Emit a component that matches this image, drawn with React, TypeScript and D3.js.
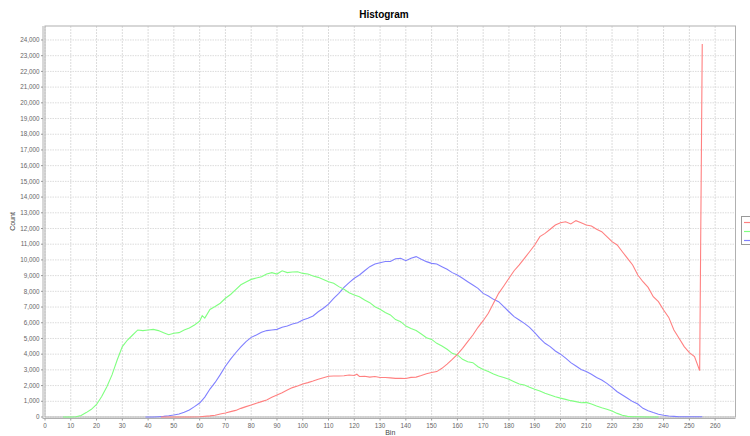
import React from 'react';
import * as d3 from 'd3';

// [bin, count]
const redSeries: [number, number][] = [
  [45, 0], [50, 0], [56, 0], [60, 20], [64, 70], [66, 110], [68, 190], [70, 260], [72, 340], [74, 420],
  [76, 550], [78, 660], [80, 760], [82, 870], [84, 980], [86, 1080], [88, 1250], [90, 1400], [92, 1550],
  [94, 1720], [96, 1870], [98, 1970], [100, 2100], [102, 2190], [104, 2290], [106, 2400], [108, 2500],
  [110, 2590], [112, 2610], [114, 2610], [116, 2630], [118, 2670], [120, 2640], [121, 2720], [122, 2580],
  [124, 2590], [126, 2540], [128, 2580], [130, 2510], [132, 2510], [134, 2490], [136, 2460], [138, 2460],
  [140, 2450], [142, 2520], [144, 2540], [146, 2640], [148, 2750], [150, 2830], [152, 2890], [154, 3100],
  [156, 3370], [158, 3670], [160, 3990], [162, 4370], [164, 4800], [166, 5220], [168, 5710], [170, 6130],
  [172, 6600], [174, 7240], [176, 7870], [178, 8340], [180, 8830], [182, 9310], [184, 9680], [186, 10100],
  [188, 10520], [190, 10950], [192, 11480], [194, 11690], [196, 11950], [198, 12220], [200, 12370],
  [202, 12430], [204, 12290], [206, 12500], [208, 12370], [210, 12220], [212, 12160], [214, 11950],
  [216, 11800], [218, 11480], [220, 11160], [222, 10950], [224, 10520], [226, 10100], [228, 9680],
  [230, 9040], [232, 8610], [234, 8250], [236, 7660], [238, 7340], [240, 6810], [242, 6340], [244, 5540],
  [246, 5010], [248, 4480], [250, 4100], [252, 3840], [254, 2950], [255, 23750],
];

const greenSeries: [number, number][] = [
  [7, 0], [10, 0], [12, 20], [14, 100], [16, 280], [18, 490], [20, 800], [22, 1300], [24, 1930], [26, 2680],
  [28, 3630], [30, 4480], [32, 4900], [34, 5220], [36, 5540], [38, 5500], [40, 5540], [42, 5580], [44, 5500],
  [46, 5370], [48, 5240], [50, 5330], [52, 5370], [54, 5540], [56, 5670], [58, 5860], [60, 6100], [61, 6450],
  [62, 6300], [64, 6850], [66, 7030], [68, 7240], [70, 7560], [72, 7800], [74, 8110], [76, 8420], [78, 8600],
  [80, 8760], [82, 8850], [84, 8930], [86, 9100], [88, 9190], [90, 9100], [92, 9310], [94, 9190], [96, 9230],
  [98, 9250], [100, 9140], [102, 9100], [104, 8980], [106, 8890], [108, 8760], [110, 8610], [112, 8510],
  [114, 8300], [116, 8130], [118, 7910], [120, 7770], [122, 7660], [124, 7450], [126, 7280], [128, 7020],
  [130, 6860], [132, 6650], [134, 6500], [136, 6200], [138, 6070], [140, 5790], [142, 5640], [144, 5500],
  [146, 5280], [148, 5050], [150, 4940], [152, 4690], [154, 4520], [156, 4310], [158, 4050], [160, 3950],
  [162, 3670], [164, 3520], [166, 3460], [168, 3200], [170, 3030], [172, 2890], [174, 2740], [176, 2610],
  [178, 2520], [180, 2400], [182, 2250], [184, 2100], [186, 2040], [188, 1890], [190, 1760], [192, 1650],
  [194, 1510], [196, 1400], [198, 1290], [200, 1200], [202, 1120], [204, 1040], [206, 980], [208, 910],
  [210, 930], [212, 830], [214, 700], [216, 590], [218, 490], [220, 380], [222, 230], [224, 110], [226, 40],
  [228, 20], [230, 20], [234, 0], [238, 0],
];

const blueSeries: [number, number][] = [
  [39, 0], [42, 0], [44, 20], [46, 40], [48, 80], [50, 130], [52, 190], [54, 300], [56, 450], [58, 660],
  [60, 890], [62, 1270], [64, 1780], [66, 2200], [68, 2700], [70, 3230], [72, 3680], [74, 4090], [76, 4460],
  [78, 4800], [80, 5070], [82, 5220], [84, 5390], [86, 5500], [88, 5540], [90, 5580], [92, 5710], [94, 5790],
  [96, 5920], [98, 6000], [100, 6170], [102, 6280], [104, 6430], [106, 6700], [108, 6920], [110, 7190],
  [112, 7550], [114, 7870], [116, 8250], [118, 8550], [120, 8830], [122, 9040], [124, 9310], [126, 9570],
  [128, 9740], [130, 9820], [132, 9900], [134, 9900], [136, 10070], [138, 10100], [140, 9950], [142, 10100],
  [144, 10210], [146, 10040], [148, 9890], [150, 9780], [152, 9740], [154, 9570], [156, 9400], [158, 9190],
  [160, 9040], [162, 8830], [164, 8610], [166, 8400], [168, 8190], [170, 7870], [172, 7700], [174, 7490],
  [176, 7340], [178, 7020], [180, 6700], [182, 6390], [184, 6170], [186, 5960], [188, 5710], [190, 5370],
  [192, 5000], [194, 4690], [196, 4480], [198, 4200], [200, 4000], [202, 3750], [204, 3460], [206, 3250],
  [208, 3030], [210, 2890], [212, 2720], [214, 2520], [216, 2360], [218, 2140], [220, 1890], [222, 1610],
  [224, 1400], [226, 1190], [228, 980], [230, 830], [232, 550], [234, 400], [236, 280], [238, 170],
  [240, 110], [242, 60], [244, 40], [246, 20], [250, 20], [255, 20],
];

const xTicks = [0, 10, 20, 30, 40, 50, 60, 70, 80, 90, 100, 110, 120, 130, 140, 150, 160, 170, 180, 190, 200, 210, 220, 230, 240, 250, 260];
const yTicks = [0, 1000, 2000, 3000, 4000, 5000, 6000, 7000, 8000, 9000, 10000, 11000, 12000, 13000, 14000, 15000, 16000, 17000, 18000, 19000, 20000, 21000, 22000, 23000, 24000];
const seriesColors = ['#ff8080', '#80ff80', '#8080ff'];

const W = 750;
const H = 436;
const plot = { left: 45, right: 735.5, top: 26, bottom: 417 };
const font = '"Liberation Sans", Arial, sans-serif';

export default function App() {
  const x = d3.scaleLinear().domain([0, 267.9]).range([plot.left, plot.right]);
  const y = d3.scaleLinear().domain([0, 24890]).range([plot.bottom, plot.top]);
  const line = d3.line<[number, number]>().x(d => x(d[0])).y(d => y(d[1]));
  const fmt = d3.format(',');

  // draw order reversed so the first series ends on top
  const series = [blueSeries, greenSeries, redSeries];
  const colors = [seriesColors[2], seriesColors[1], seriesColors[0]];

  return (
    <svg width={W} height={H} style={{ position: 'absolute', left: 0, top: 0, background: '#fff' }}>
      <rect x={0} y={0} width={W} height={H} fill="#fff" />
      <text x={384} y={18} textAnchor="middle" fontFamily={font} fontWeight="bold" fontSize={10} fill="#000">
        Histogram
      </text>

      {/* grid */}
      <g>
        {xTicks.map(t => (
          <line key={'gx' + t} x1={x(t)} x2={x(t)} y1={plot.top} y2={plot.bottom}
            stroke="#dcdcdc" strokeWidth={1} strokeDasharray="2,1" />
        ))}
        {yTicks.map(t => (
          <line key={'gy' + t} x1={plot.left} x2={plot.right} y1={y(t)} y2={y(t)}
            stroke="#dcdcdc" strokeWidth={1} strokeDasharray="1.5,1" />
        ))}
      </g>

      {/* plot outline + axis lines */}
      <rect x={plot.left} y={plot.top} width={plot.right - plot.left} height={plot.bottom - plot.top}
        fill="none" stroke="#b0b0b0" strokeWidth={1} />
      <line x1={plot.left - 2} x2={plot.left - 2} y1={plot.top} y2={plot.bottom + 2} stroke="#b0b0b0" />
      <line x1={plot.left - 2} x2={plot.right} y1={plot.bottom + 1.5} y2={plot.bottom + 1.5} stroke="#b0b0b0" />

      {/* series */}
      {series.map((s, i) => (
        <path key={'s' + i} d={line(s) || ''} fill="none" stroke={colors[i]} strokeWidth={1.1} />
      ))}

      {/* y axis */}
      <g fontFamily={font} fontSize={6.3} fill="#666">
        {yTicks.map(t => (
          <g key={'yt' + t}>
            <line x1={plot.left - 4} x2={plot.left - 2} y1={y(t)} y2={y(t)} stroke="#999" />
            <text x={plot.left - 5.5} y={y(t)} dy="0.35em" textAnchor="end">{fmt(t)}</text>
          </g>
        ))}
      </g>
      <text transform={`translate(15,${(plot.top + plot.bottom) / 2}) rotate(-90)`} textAnchor="middle"
        fontFamily={font} fontSize={7} fill="#444">Count</text>

      {/* x axis */}
      <g fontFamily={font} fontSize={6.3} fill="#666">
        {xTicks.map(t => (
          <g key={'xt' + t}>
            <line x1={x(t)} x2={x(t)} y1={plot.bottom + 1.5} y2={plot.bottom + 3.5} stroke="#999" />
            <text x={x(t)} y={plot.bottom + 10.5} textAnchor="middle">{t}</text>
          </g>
        ))}
      </g>
      <text x={(plot.left + plot.right) / 2} y={435} textAnchor="middle" fontFamily={font} fontSize={7} fill="#444">Bin</text>

      {/* legend: only the line samples fit inside the frame, as in the reference */}
      <g>
        <rect x={741.5} y={216.5} width={40} height={28} fill="#fff" stroke="#999" />
        {seriesColors.map((c, i) => (
          <line key={'lg' + i} x1={744} x2={752} y1={222.5 + i * 9} y2={222.5 + i * 9} stroke={c} strokeWidth={1.2} />
        ))}
      </g>
    </svg>
  );
}
